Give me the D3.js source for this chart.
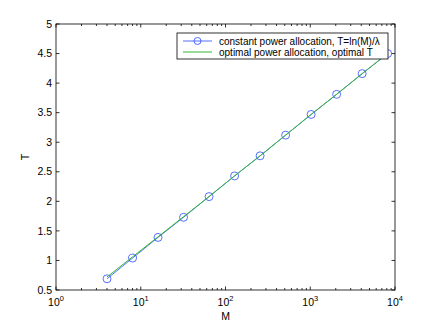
<!DOCTYPE html>
<html>
<head>
<meta charset="utf-8">
<script src="https://cdn.jsdelivr.net/npm/d3@7"></script>
<style>
  body { margin: 0; background: #fff; }
  text { font-family: "Liberation Sans", Arial, sans-serif; }
</style>
</head>
<body>
<div id="chart"></div>
<script>
// data
const mValues = [4, 8, 16, 32, 64, 128, 256, 512, 1024, 2048, 4096, 8192];
const constantT = [0.69, 1.04, 1.39, 1.73, 2.08, 2.43, 2.77, 3.12, 3.47, 3.81, 4.16, 4.5];
const optimalT = [0.72, 1.06, 1.40, 1.74, 2.08, 2.43, 2.77, 3.12, 3.47, 3.81, 4.16, 4.5];
const yTicks = [0.5, 1, 1.5, 2, 2.5, 3, 3.5, 4, 4.5, 5];
const xTicks = [1, 10, 100, 1000, 10000];
const legendLabels = ["constant power allocation, T=ln(M)/\u03bb", "optimal power allocation, optimal T"];

const W = 436, H = 328;
const margin = { top: 24, right: 41, bottom: 38, left: 56 };
const width = W - margin.left - margin.right,
  height = H - margin.top - margin.bottom;

const svg = d3.select("#chart").append("svg")
  .attr("width", W).attr("height", H);

const g = svg.append("g")
  .attr("transform", "translate(" + margin.left + "," + margin.top + ")");

const x = d3.scaleLog().domain([1, 10000]).range([0, width]);
const y = d3.scaleLinear().domain([0.5, 5]).range([height, 0]);

// minor ticks for log axis
const minor = [];
for (let e = 0; e < 4; e++) {
  for (let k = 2; k <= 9; k++) minor.push(k * Math.pow(10, e));
}

const tickLen = 3.5, minorLen = 2;
const axisG = g.append("g").attr("stroke", "#000").attr("stroke-width", 0.8);

xTicks.forEach(function (t) {
  const px = x(t);
  axisG.append("line").attr("x1", px).attr("x2", px).attr("y1", height).attr("y2", height - tickLen);
  axisG.append("line").attr("x1", px).attr("x2", px).attr("y1", 0).attr("y2", tickLen);
});
minor.forEach(function (t) {
  const px = x(t);
  axisG.append("line").attr("x1", px).attr("x2", px).attr("y1", height).attr("y2", height - minorLen);
  axisG.append("line").attr("x1", px).attr("x2", px).attr("y1", 0).attr("y2", minorLen);
});
yTicks.forEach(function (t) {
  const py = y(t);
  axisG.append("line").attr("x1", 0).attr("x2", tickLen).attr("y1", py).attr("y2", py);
  axisG.append("line").attr("x1", width).attr("x2", width - tickLen).attr("y1", py).attr("y2", py);
});

// y tick labels
g.selectAll(".ylab").data(yTicks).enter().append("text")
  .attr("x", -4)
  .attr("y", function (d) { return y(d); })
  .attr("dy", "0.35em")
  .attr("text-anchor", "end")
  .attr("font-size", 10.5)
  .text(function (d) { return d; });

// x tick labels 10^n
const xl = g.selectAll(".xlab").data(xTicks).enter().append("text")
  .attr("x", function (d) { return x(d); })
  .attr("y", height + 16)
  .attr("text-anchor", "middle")
  .attr("font-size", 10.5);
xl.append("tspan").text("10");
xl.append("tspan").attr("dy", -5).attr("font-size", 7.5)
  .text(function (d) { return Math.round(Math.log10(d)); });

// axis labels
g.append("text").attr("x", width / 2).attr("y", height + 30)
  .attr("text-anchor", "middle").attr("font-size", 10.5).text("M");
g.append("text")
  .attr("transform", "translate(-27," + height / 2 + ") rotate(-90)")
  .attr("text-anchor", "middle").attr("font-size", 10.5).text("T");

const blue = "#2a4cff", green = "#33b833";

const lineC = d3.line().x(function (d, i) { return x(mValues[i]); }).y(function (d) { return y(d); });

g.append("path").datum(constantT).attr("d", lineC)
  .attr("fill", "none").attr("stroke", blue).attr("stroke-width", 0.8);
g.selectAll(".mk").data(constantT).enter().append("circle")
  .attr("cx", function (d, i) { return x(mValues[i]); })
  .attr("cy", function (d) { return y(d); })
  .attr("r", 4)
  .attr("fill", "none").attr("stroke", blue).attr("stroke-width", 0.8);
g.append("path").datum(optimalT).attr("d", lineC)
  .attr("fill", "none").attr("stroke", green).attr("stroke-width", 1);

// box
g.append("rect").attr("width", width).attr("height", height)
  .attr("fill", "none").attr("stroke", "#000").attr("stroke-width", 0.8);

// legend
const lg = g.append("g").attr("transform", "translate(121,9)");
lg.append("rect").attr("width", 211).attr("height", 26)
  .attr("fill", "#fff").attr("stroke", "#000").attr("stroke-width", 0.8);
legendLabels.forEach(function (lab, i) {
  const ly = 8 + i * 11;
  const col = i === 0 ? blue : green;
  lg.append("line").attr("x1", 6).attr("x2", 35).attr("y1", ly).attr("y2", ly)
    .attr("stroke", col).attr("stroke-width", i === 0 ? 0.8 : 1);
  if (i === 0) {
    lg.append("circle").attr("cx", 20.5).attr("cy", ly).attr("r", 3.5)
      .attr("fill", "none").attr("stroke", col).attr("stroke-width", 0.8);
  }
  lg.append("text").attr("x", 42).attr("y", ly).attr("dy", "0.35em")
    .attr("font-size", 10).text(lab);
});
</script>
</body>
</html>
